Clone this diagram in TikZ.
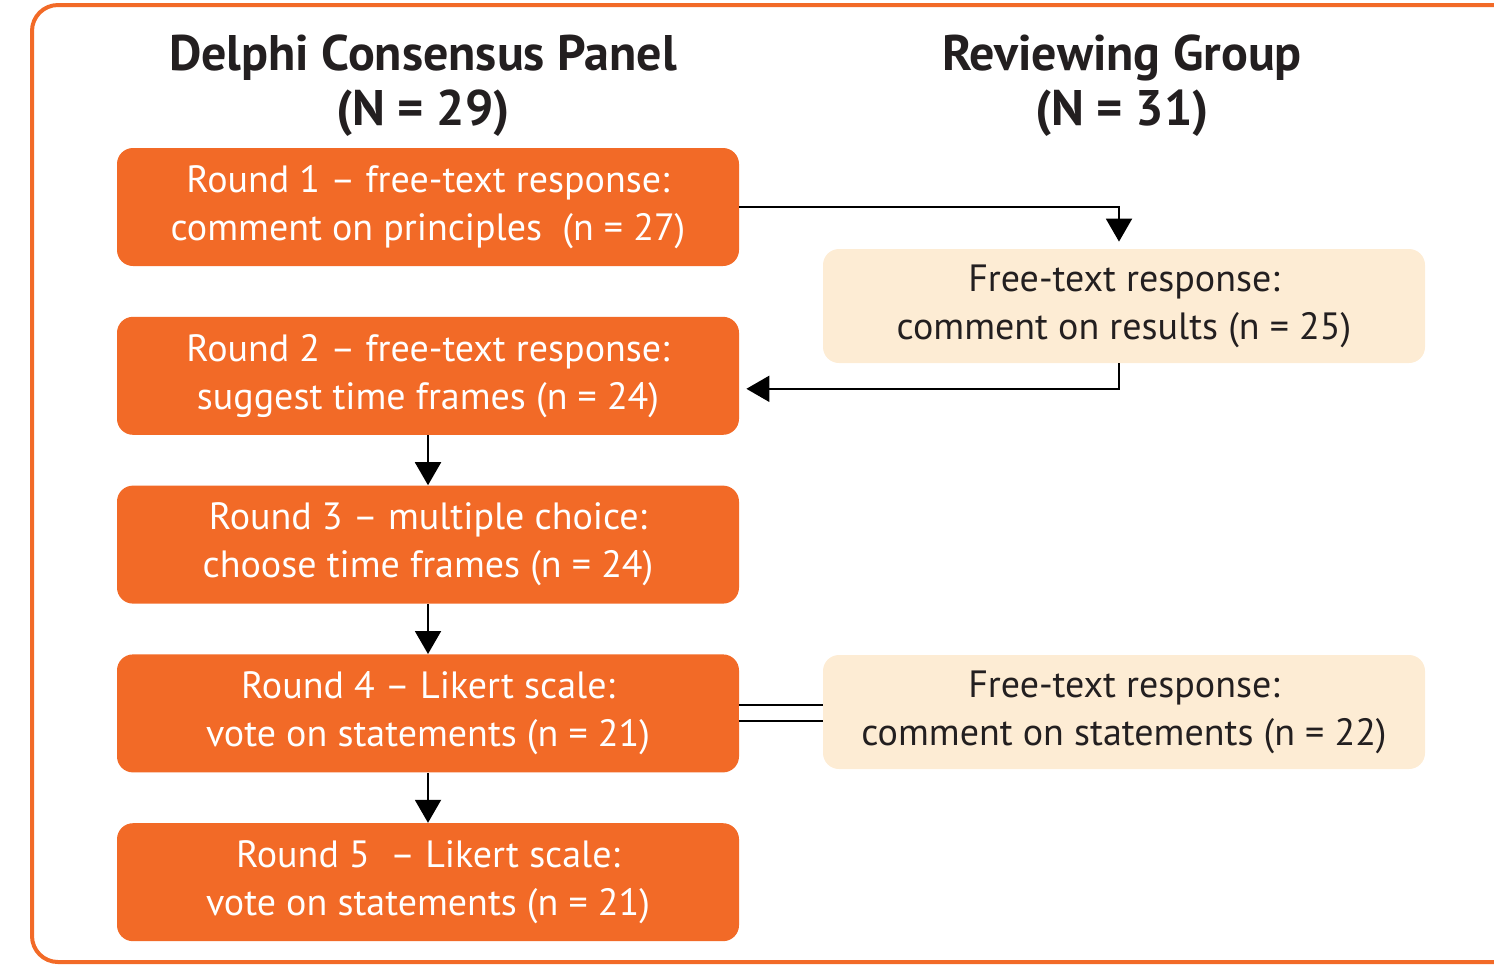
\documentclass[tikz,border=0pt]{standalone}
\usepackage{fontspec}
\setmainfont{PT Sans}
\usetikzlibrary{arrows.meta,positioning,calc}
\definecolor{delphiorange}{RGB}{242,106,39}
\definecolor{reviewbeige}{RGB}{253,236,212}
\definecolor{textgray}{RGB}{35,31,32}
\tikzset{
  % Define standard arrow tip
  >={Triangle[length=11.5pt,width=13pt]},
  % Define style for round boxes
  roundbox/.style={
    rectangle,
    rounded corners=8pt,
    fill=delphiorange,
    text=white,
    minimum width=311pt,
    minimum height=59pt,
    align=center,
    font=\fontsize{19}{24}\selectfont},
  % Define style for review boxes
  reviewbox/.style={
    rectangle,
    rounded corners=8pt,
    fill=reviewbeige,
    text=textgray,
    minimum width=301pt,
    minimum height=57pt,
    align=center,
    font=\fontsize{19}{24}\selectfont},
  % Define header style
  header/.style={
    align=center,
    text=textgray,
    font=\bfseries\fontsize{25}{27.5}\selectfont},
  % Define arrow style
  arrow/.style={
    ->,
    line width=1pt},
  % line
  line/.style = {draw, line width=1pt},
}

\begin{document}
\begin{tikzpicture}[x=0.5pt, y=-0.5pt, node distance=25pt]
  \useasboundingbox (0,0) rectangle (1494,966);
  % frame
  \draw[delphiorange, line width=2pt, rounded corners=13pt] (32,5) rectangle (1520,962);
  % headers
  \node[header] (panel) at (423,86) {Delphi Consensus Panel\\(N = 29)};
  \node[header] (group) at (1122,86) {Reviewing Group\\(N = 31)};
  % nodes
  \node[roundbox] (round1) at (428,207) {Round 1 -- free-text response:\\comment on principles\ \ (n = 27)};
  \node[roundbox, below=of round1] (round2) {Round 2 -- free-text response:\\suggest time frames (n = 24)};
  \node[roundbox, below=of round2] (round3) {Round 3 -- multiple choice:\\choose time frames (n = 24)};
  \node[roundbox, below=of round3] (round4) {Round 4 -- Likert scale:\\vote on statements (n = 21)};
  \node[roundbox, below=of round4] (round5) {Round 5\ \ -- Likert scale:\\vote on statements (n = 21)};
  \node[reviewbox] (results) at (1124,306) {Free-text response:\\comment on results (n = 25)};
  \node[reviewbox] (statements) at (1124,712) {Free-text response:\\comment on statements (n = 22)};
  % connectors
  \coordinate (top) at ($(results.north)+(-5,0)$);
  \coordinate (bottom) at ($(results.south)+(-5,0)$);
  \draw[arrow, shorten >=3.5pt] (round1.east) -| (top);
  \draw[arrow, shorten >=3.5pt] (bottom) |- ([yshift=-6.5pt]round2.east);
  \draw[arrow] (round2) -- (round3);
  \draw[arrow] (round3) -- (round4);
  \draw[arrow] (round4) -- (round5);
  \draw[line width=1pt, double, double distance=7pt] (round4.east) -- (round4.east -| statements.west);

\end{tikzpicture}
\end{document}
